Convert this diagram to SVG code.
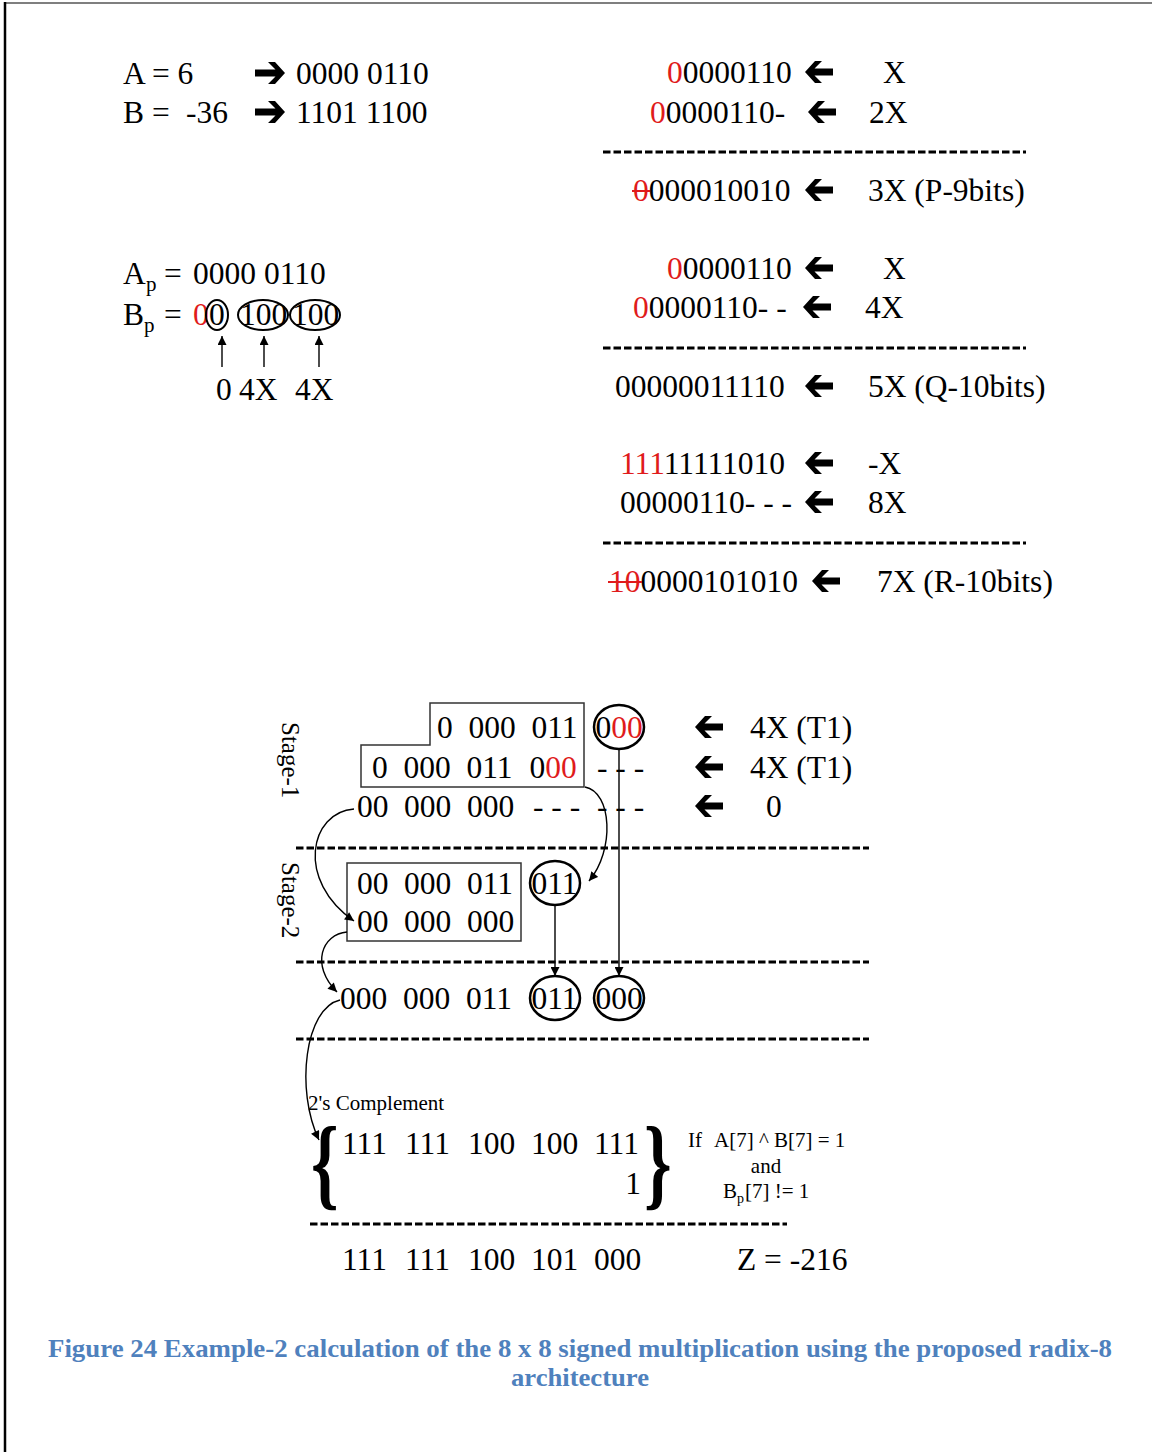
<svg xmlns="http://www.w3.org/2000/svg" width="1152" height="1452" viewBox="0 0 1152 1452">
  <style>
    .t { font-family: "Liberation Serif", "Times New Roman", serif; font-size: 31.5px; fill: #000; }
    .r { fill: #e01b1b; }
    .sm { font-size: 21px; }
    .sub { font-size: 21px; }
    .brace { font-family: "Liberation Serif", "Times New Roman", serif; font-weight: bold; font-size: 52px; fill: #000; }
    .cap { font-family: "Liberation Serif", "Times New Roman", serif; font-weight: bold; font-size: 26px; fill: #4f81bd; }
    .dash { stroke: #000; stroke-width: 3; stroke-dasharray: 7.5 3; fill: none; }
    .ring { fill: none; stroke: #000; stroke-width: 2.5; }
    .ring2 { fill: none; stroke: #000; stroke-width: 2; }
    .box { fill: none; stroke: #333; stroke-width: 1.5; }
    .link { fill: none; stroke: #000; stroke-width: 1.4; marker-end: url(#ah); }
    .strike { stroke: #e01b1b; stroke-width: 2; }
    .arrow { fill: #000; }
  </style>
  <defs>
    <!-- bold block arrows used beside the binary rows -->
    <path id="larr" d="M0,0 L10,-11 L17,-11 L9.5,-3.5 L28,-3.5 L28,3.5 L9.5,3.5 L17,11 L10,11 Z"/>
    <path id="rarr" d="M0,0 L-10,-11 L-17,-11 L-9.5,-3.5 L-30,-3.5 L-30,3.5 L-9.5,3.5 L-17,11 L-10,11 Z"/>
    <marker id="ah" viewBox="0 0 10 10" refX="10" refY="5" markerWidth="10" markerHeight="9" markerUnits="userSpaceOnUse" orient="auto">
      <path d="M0,0 L10,5 L0,10 Z" fill="#000"/>
    </marker>
  </defs>

  <rect width="1152" height="1452" fill="#fff"/>
  <!-- page frame -->
  <line x1="4" y1="3" x2="1152" y2="3" stroke="#555" stroke-width="1.5"/>
  <line x1="5" y1="2" x2="5" y2="1452" stroke="#000" stroke-width="2.5"/>

  <!-- operands -->
  <g id="operands">
    <text class="t" x="123" y="84">A = 6</text>
    <use href="#rarr" x="285" y="73" class="arrow"/>
    <text class="t" x="296" y="84">0000 0110</text>
    <text class="t" x="123" y="123">B =</text>
    <text class="t" x="186" y="123">-36</text>
    <use href="#rarr" x="285" y="112" class="arrow"/>
    <text class="t" x="296" y="123">1101 1100</text>
  </g>

  <!-- 3X partial product -->
  <g id="sum-3x">
    <text class="t" x="667" y="83"><tspan class="r">0</tspan>0000110</text>
    <use href="#larr" x="805" y="72" class="arrow"/>
    <text class="t" x="883" y="83">X</text>
    <text class="t" x="650" y="123"><tspan class="r">0</tspan>0000110-</text>
    <use href="#larr" x="808" y="112" class="arrow"/>
    <text class="t" x="869" y="123">2X</text>
    <line class="dash" x1="603" y1="152" x2="1026" y2="152"/>
    <text class="t" x="633" y="201"><tspan class="r">0</tspan>000010010</text>
    <line class="strike" x1="632" y1="191" x2="650" y2="191"/>
    <use href="#larr" x="805" y="190" class="arrow"/>
    <text class="t" x="868" y="201">3X (P-9bits)</text>
  </g>

  <!-- recoded operands -->
  <g id="recoded">
    <text class="t" x="123" y="284">A</text>
    <text class="t sub" x="146" y="291">p</text>
    <text class="t" x="164" y="284">=</text>
    <text class="t" x="193" y="284">0000 0110</text>
    <text class="t" x="123" y="325">B</text>
    <text class="t sub" x="144" y="332">p</text>
    <text class="t" x="164" y="325">=</text>
    <text class="t r" x="193" y="325">0</text>
    <text class="t" x="209" y="325">0</text>
    <text class="t" x="240" y="325">100</text>
    <text class="t" x="292" y="325">100</text>
    <ellipse class="ring2" cx="217" cy="315" rx="11" ry="15"/>
    <ellipse class="ring2" cx="263" cy="315" rx="25" ry="15"/>
    <ellipse class="ring2" cx="315" cy="315" rx="25" ry="15"/>
    <text class="t" x="216" y="400">0</text>
    <text class="t" x="239" y="400">4X</text>
    <text class="t" x="295" y="400">4X</text>
  </g>

  <!-- 5X partial product -->
  <g id="sum-5x">
    <text class="t" x="667" y="279"><tspan class="r">0</tspan>0000110</text>
    <use href="#larr" x="805" y="268" class="arrow"/>
    <text class="t" x="883" y="279">X</text>
    <text class="t" x="633" y="318"><tspan class="r">0</tspan>0000110- -</text>
    <use href="#larr" x="803" y="307" class="arrow"/>
    <text class="t" x="865" y="318">4X</text>
    <line class="dash" x1="603" y1="348" x2="1026" y2="348"/>
    <text class="t" x="615" y="397">00000011110</text>
    <use href="#larr" x="805" y="386" class="arrow"/>
    <text class="t" x="868" y="397">5X (Q-10bits)</text>
  </g>

  <!-- 7X partial product -->
  <g id="sum-7x">
    <text class="t" x="620" y="474"><tspan class="r">111</tspan>11111010</text>
    <use href="#larr" x="805" y="463" class="arrow"/>
    <text class="t" x="868" y="474">-X</text>
    <text class="t" x="620" y="513">00000110- - -</text>
    <use href="#larr" x="805" y="502" class="arrow"/>
    <text class="t" x="868" y="513">8X</text>
    <line class="dash" x1="603" y1="543" x2="1026" y2="543"/>
    <text class="t" x="609" y="592"><tspan class="r">10</tspan>0000101010</text>
    <line class="strike" x1="608" y1="582" x2="642" y2="582"/>
    <use href="#larr" x="812" y="581" class="arrow"/>
    <text class="t" x="877" y="592">7X (R-10bits)</text>
  </g>

  <!-- stage 1 -->
  <g id="stage-1">
    <text class="t" style="font-size:25px" transform="translate(282,722) rotate(90)">Stage-1</text>
    <polygon class="box" points="430,703 584,703 584,787 361,787 361,745 430,745"/>
    <text class="t" y="738"><tspan x="437">0</tspan><tspan x="468.5">000</tspan><tspan x="531.5">011</tspan></text>
    <ellipse class="ring" cx="619" cy="727" rx="25" ry="22"/>
    <text class="t" x="595.5" y="738">0<tspan class="r">00</tspan></text>
    <text class="t" y="778"><tspan x="372">0</tspan><tspan x="403.5">000</tspan><tspan x="466.5">011</tspan><tspan x="529.5">0</tspan><tspan class="r">00</tspan></text>
    <text class="t" x="597" y="778">- - -</text>
    <text class="t" y="817"><tspan x="357">00</tspan><tspan x="404">000</tspan><tspan x="467">000</tspan></text>
    <text class="t" x="533" y="817">- - -</text>
    <text class="t" x="597" y="817">- - -</text>
    <use href="#larr" x="695" y="727" class="arrow"/>
    <text class="t" x="750" y="738">4X (T1)</text>
    <use href="#larr" x="695" y="767" class="arrow"/>
    <text class="t" x="750" y="778">4X (T1)</text>
    <use href="#larr" x="695" y="806" class="arrow"/>
    <text class="t" x="766" y="817">0</text>
  </g>

  <line class="dash" x1="296" y1="848" x2="869" y2="848"/>

  <!-- stage 2 -->
  <g id="stage-2">
    <text class="t" style="font-size:25px" transform="translate(282,862) rotate(90)">Stage-2</text>
    <rect class="box" x="347" y="863" width="174" height="78"/>
    <text class="t" y="894"><tspan x="357">00</tspan><tspan x="404">000</tspan><tspan x="467">011</tspan></text>
    <text class="t" y="932"><tspan x="357">00</tspan><tspan x="404">000</tspan><tspan x="467">000</tspan></text>
    <ellipse class="ring" cx="555" cy="883" rx="25" ry="22"/>
    <text class="t" x="531.5" y="894">011</text>
  </g>

  <line class="dash" x1="296" y1="962" x2="869" y2="962"/>

  <!-- combined result -->
  <g id="result">
    <text class="t" y="1009"><tspan x="340">000</tspan><tspan x="403">000</tspan><tspan x="466">011</tspan></text>
    <ellipse class="ring" cx="555" cy="998" rx="25" ry="22"/>
    <text class="t" x="531.5" y="1009">011</text>
    <ellipse class="ring" cx="619" cy="998" rx="25" ry="22"/>
    <text class="t" x="595.5" y="1009">000</text>
  </g>

  <line class="dash" x1="296" y1="1039" x2="869" y2="1039"/>

  <!-- two's complement correction -->
  <g id="complement">
    <text class="t sm" x="308" y="1110">2's Complement</text>
    <text class="brace" transform="translate(311,1197) scale(1.35,1.96)">{</text>
    <text class="t" y="1154"><tspan x="342">111</tspan><tspan x="405">111</tspan><tspan x="468">100</tspan><tspan x="531">100</tspan><tspan x="594">111</tspan></text>
    <text class="t" x="641" y="1194" text-anchor="end">1</text>
    <text class="brace" transform="translate(644,1197) scale(1.35,1.96)">}</text>
    <text class="t sm" y="1147"><tspan x="688">If</tspan><tspan x="714">A[7] ^ B[7] = 1</tspan></text>
    <text class="t sm" x="766" y="1173" text-anchor="middle">and</text>
    <text class="t sm" x="723" y="1198">B</text>
    <text class="t" style="font-size:14px" x="737" y="1203">p</text>
    <text class="t sm" x="745" y="1198">[7] != 1</text>
  </g>

  <line class="dash" x1="310" y1="1224" x2="787" y2="1224"/>

  <!-- product -->
  <g id="product">
    <text class="t" y="1270"><tspan x="342">111</tspan><tspan x="405">111</tspan><tspan x="468">100</tspan><tspan x="531">101</tspan><tspan x="594">000</tspan></text>
    <text class="t" x="737" y="1270">Z = -216</text>
  </g>

  <!-- arrows between rows -->
  <g id="connectors">
    <line class="link" x1="222" y1="367" x2="222" y2="336"/>
    <line class="link" x1="264" y1="367" x2="264" y2="336"/>
    <line class="link" x1="319" y1="367" x2="319" y2="336"/>
    <line class="link" x1="619" y1="749" x2="619" y2="976"/>
    <line class="link" x1="555" y1="905" x2="555" y2="976"/>
    <path class="link" d="M585,787 C612,792 615,850 589,881"/>
    <path class="link" d="M354,809 C310,812 295,880 354,921"/>
    <path class="link" d="M347,932 C322,934 310,965 337,992"/>
    <path class="link" d="M340,1000 C305,1008 295,1090 319,1140"/>
  </g>

  <!-- caption -->
  <g id="caption">
    <text class="cap" x="48" y="1357" textLength="1064" lengthAdjust="spacingAndGlyphs">Figure 24  Example-2 calculation of the 8 x 8 signed multiplication using the proposed radix-8</text>
    <text class="cap" x="511" y="1386" textLength="138" lengthAdjust="spacingAndGlyphs">architecture</text>
  </g>
</svg>
